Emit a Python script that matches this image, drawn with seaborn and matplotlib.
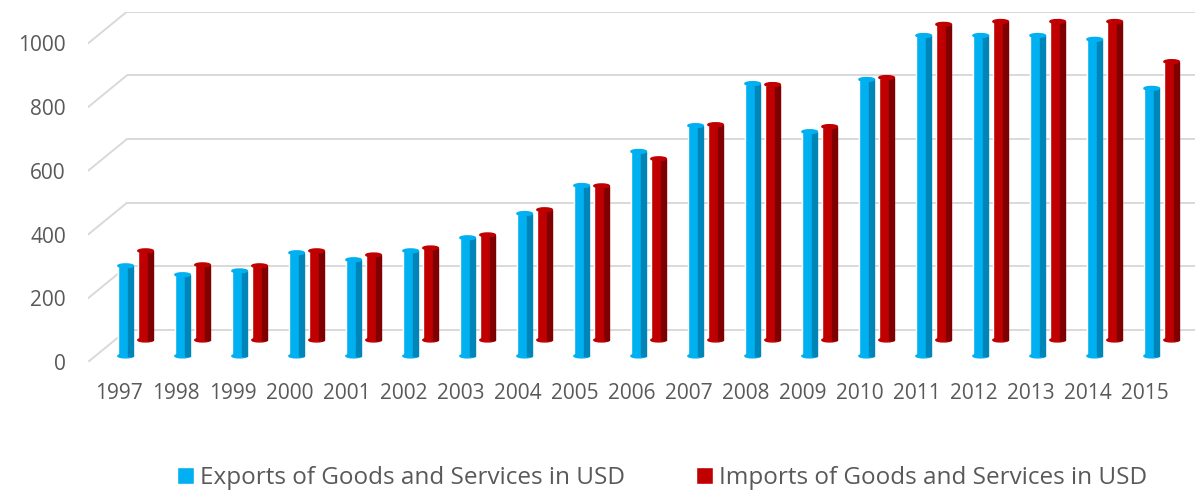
import numpy as np
import pandas as pd
import seaborn as sns
import matplotlib.pyplot as plt
from matplotlib.patches import Rectangle, Ellipse

# values
years = [str(y) for y in range(1997, 2016)]
exports = [283, 255, 267, 324, 302, 330, 371, 447, 535, 642,
           723, 855, 704, 868, 1006, 1006, 1006, 994, 840]
imports = [280, 236, 233, 280, 267, 289, 330, 409, 484, 569,
           676, 802, 670, 824, 991, 1000, 1000, 1000, 874]
series = ["Exports of Goods and Services in USD", "Imports of Goods and Services in USD"]
grid_values = [0, 200, 400, 600, 800, 1000]

colors = ["#00B0F0", "#C00000"]
side_colors = ["#0085B8", "#7E0000"]
text_color = "#595959"
grid_color = "#D9D9D9"

# fake 3d: back wall sits higher, each series row has its own floor offset
depth = 100
bases = [19, 69]

df = pd.DataFrame({
    "year": years * 2,
    "value": exports + imports,
    "series": [series[0]] * len(years) + [series[1]] * len(years),
})

sns.set_theme(style="white")
plt.rcParams["font.family"] = ["Open Sans", "DejaVu Sans"]

fig = plt.figure(figsize=(11.95, 4.96), dpi=100)
ax = fig.add_axes([88 / 1195, 134 / 496, 1107 / 1195, 350.4 / 496])

xl, xr = -0.835, 18.585
xw = -0.151
for v in grid_values:
    ax.plot([xl, xw], [v, v + depth], color=grid_color, lw=1.4, zorder=0)
ax.hlines([v + depth for v in grid_values], xw, xr, color=grid_color, lw=1.4, zorder=0)

sns.barplot(df, x="year", y="value", hue="series", palette=colors, saturation=1,
            width=0.7, gap=0.22, ax=ax, zorder=2)

for container, base, face, side in zip(ax.containers, bases, colors, side_colors):
    for bar in container:
        bar.set_y(base)
        x, w, h = bar.get_x(), bar.get_width(), bar.get_height()
        ax.add_patch(Ellipse((x + w / 2, base), w, 12, color=face, zorder=2))
        ax.add_patch(Rectangle((x + w * 0.66, base), w * 0.34, h, color=side, zorder=3))
        ax.add_patch(Ellipse((x + w / 2, base + h), w, 12, color=face, zorder=4))

ax.set_xlim(xl, xr)
ax.set_ylim(0, 1100)
ax.set_xticks(np.arange(len(years)) - 0.3, years)
ax.set_yticks(grid_values)
ax.set_xlabel("")
ax.set_ylabel("")
sns.despine(ax=ax, left=True, bottom=True)
ax.tick_params(axis="both", length=0, labelsize=15, labelcolor=text_color)
ax.tick_params(axis="y", pad=16)
ax.tick_params(axis="x", pad=15)

sns.move_legend(ax, "center", bbox_to_anchor=(662 / 1195, 1 - 478 / 496),
                bbox_transform=fig.transFigure, ncol=2, title=None, frameon=False,
                handlelength=0.7, handleheight=0.7, handletextpad=0.25,
                columnspacing=2.9, fontsize=17.5)
for t in ax.get_legend().get_texts():
    t.set_color(text_color)

fig.savefig("out.png", dpi=100)
